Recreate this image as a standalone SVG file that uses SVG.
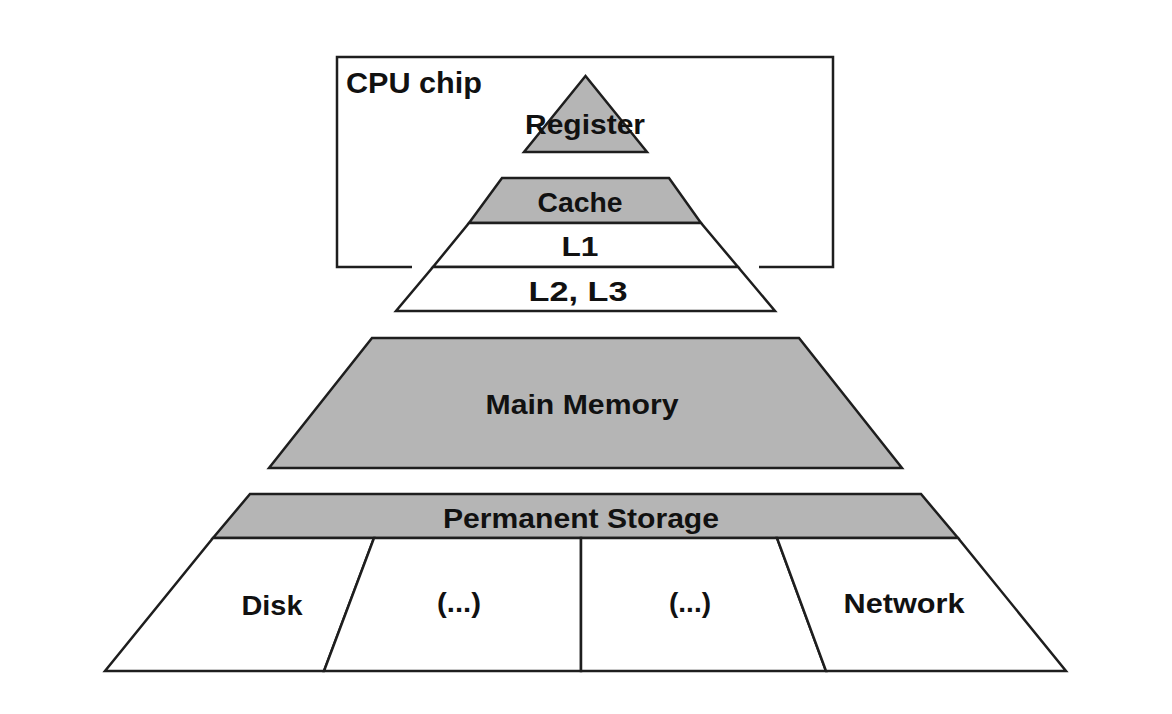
<svg xmlns="http://www.w3.org/2000/svg" width="1172" height="714" viewBox="0 0 1172 714">
<style>
.g{fill:#b5b5b5;stroke:#1e1e1e;stroke-width:2.5;stroke-linejoin:miter}
.w{fill:#ffffff;stroke:#1e1e1e;stroke-width:2.5;stroke-linejoin:miter}
.ln{fill:none;stroke:#1e1e1e;stroke-width:2.5}
.t{font-family:"Liberation Sans",Arial,sans-serif;font-weight:bold;font-size:27px;fill:#111;text-anchor:middle}
</style>
<rect width="1172" height="714" fill="#ffffff"/>
<g id="cpu-chip">
<path class="ln" d="M412,267 H337 V57 H833 V267 H759"/>
<text class="t" x="346" y="93" style="text-anchor:start;font-size:29px" textLength="136" lengthAdjust="spacingAndGlyphs">CPU chip</text>
</g>
<g id="register">
<polygon class="g" points="585.5,76 524,152 647,152"/>
<text class="t" x="585" y="134" textLength="120" lengthAdjust="spacingAndGlyphs">Register</text>
</g>
<g id="cache">
<polygon class="g" points="502,178 669,178 701,223 469,223"/>
<text class="t" x="580" y="212" textLength="85" lengthAdjust="spacingAndGlyphs">Cache</text>
</g>
<g id="l1">
<polygon class="w" points="469,223 701,223 738,267 433,267"/>
<text class="t" x="580" y="256" textLength="37" lengthAdjust="spacingAndGlyphs">L1</text>
</g>
<g id="l2l3">
<polygon class="w" points="433,267 738,267 775,311 396,311"/>
<text class="t" x="578" y="301" textLength="99" lengthAdjust="spacingAndGlyphs">L2, L3</text>
</g>
<g id="main-memory">
<polygon class="g" points="372,338 799,338 902,468 269,468"/>
<text class="t" x="582" y="414" textLength="193" lengthAdjust="spacingAndGlyphs">Main Memory</text>
</g>
<g id="permanent-storage">
<polygon class="g" points="250,494 921,494 958,538 213,538"/>
<text class="t" x="581" y="528" textLength="276" lengthAdjust="spacingAndGlyphs">Permanent Storage</text>
</g>
<g id="disk">
<polygon class="w" points="213,538 374,538 324,671 105,671"/>
<text class="t" x="272" y="615" textLength="61" lengthAdjust="spacingAndGlyphs">Disk</text>
</g>
<g id="etc1">
<polygon class="w" points="374,538 581,538 581,671 324,671"/>
<text class="t" x="459" y="612" textLength="44" lengthAdjust="spacingAndGlyphs">(...)</text>
</g>
<g id="etc2">
<polygon class="w" points="581,538 777,538 826,671 581,671"/>
<text class="t" x="690" y="612" textLength="42" lengthAdjust="spacingAndGlyphs">(...)</text>
</g>
<g id="network">
<polygon class="w" points="777,538 958,538 1066,671 826,671"/>
<text class="t" x="904" y="613" textLength="121" lengthAdjust="spacingAndGlyphs">Network</text>
</g>
<g id="connectors"></g>
</svg>
